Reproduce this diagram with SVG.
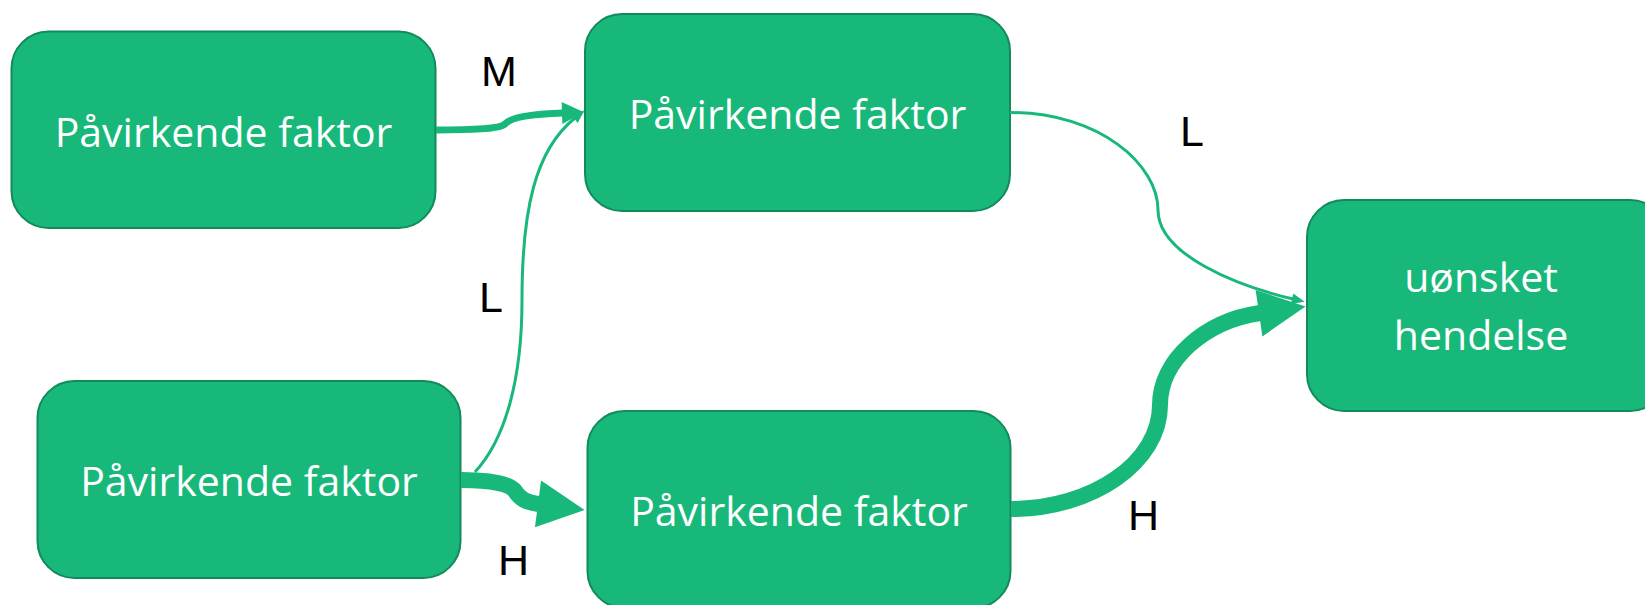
<svg xmlns="http://www.w3.org/2000/svg" width="1645" height="605" viewBox="0 0 1645 605">
  <style>
    .box { fill: #18B87A; stroke: #138A5C; stroke-width: 2; }
    .box-text { font-family: "Open Sans", "Noto Sans", sans-serif; font-size: 41px; fill: #FFFFFF; text-anchor: middle; }
    .link { fill: none; stroke: #18B87A; stroke-linecap: butt; }
    .thin { stroke-width: 3; }
    .mid { stroke-width: 7; }
    .thick { stroke-width: 16; }
    .label { font-family: "Liberation Sans", Arial, sans-serif; font-size: 43px; fill: #000000; }
  </style>
  <defs>
    <marker id="head-lg" markerUnits="userSpaceOnUse" markerWidth="48" markerHeight="48" refX="1" refY="23.5" orient="auto" overflow="visible">
      <path d="M0,0 L47,23.5 L0,47 z" fill="#18B87A"/>
    </marker>
    <marker id="head-md" markerUnits="userSpaceOnUse" markerWidth="22" markerHeight="22" refX="1" refY="11" orient="auto" overflow="visible">
      <path d="M0,0 L22,11 L0,22 z" fill="#18B87A"/>
    </marker>
    <marker id="head-sm" markerUnits="userSpaceOnUse" markerWidth="14" markerHeight="12" refX="1" refY="5.5" orient="auto" overflow="visible">
      <path d="M0,0 L13,5.5 L0,11 z" fill="#18B87A"/>
    </marker>
  </defs>

  <rect width="1645" height="605" fill="#FFFFFF"/>

  <!-- factor nodes -->
  <g id="factor-top-left">
    <rect class="box" x="11.5" y="31.5" width="424" height="196.5" rx="37" ry="37"/>
    <text class="box-text" x="223.5" y="146.5">Påvirkende faktor</text>
  </g>
  <g id="factor-top-mid">
    <rect class="box" x="585" y="14" width="425" height="197" rx="37" ry="37"/>
    <text class="box-text" x="797.5" y="129">Påvirkende faktor</text>
  </g>
  <g id="factor-bottom-left">
    <rect class="box" x="37.5" y="381" width="423" height="197" rx="37" ry="37"/>
    <text class="box-text" x="249" y="496">Påvirkende faktor</text>
  </g>
  <g id="factor-bottom-mid">
    <rect class="box" x="587.5" y="411" width="423" height="197" rx="37" ry="37"/>
    <text class="box-text" x="799" y="525.5">Påvirkende faktor</text>
  </g>
  <g id="event">
    <rect class="box" x="1307" y="200" width="360" height="211" rx="37" ry="37"/>
    <text class="box-text" x="1481" y="292">uønsket</text>
    <text class="box-text" x="1481" y="350">hendelse</text>
  </g>

  <!-- weighted connectors -->
  <g id="connectors">
    <path class="link mid" d="M436,130 C470,130 500,129 505,124 C510,118 530,114 563,113" marker-end="url(#head-md)"/>
    <path class="link thin" d="M475,472 C505,440 522,380 522,300 C522,210 535,150 575,118" marker-end="url(#head-sm)"/>
    <path class="link thick" d="M461,480 C492,480 510,484 515,491 C520,499 526,502.3 539,504" marker-end="url(#head-lg)"/>
    <path class="link thin" d="M1010,112.5 C1100,112.5 1158,165 1158,210 C1158,255 1238,286 1293,299" marker-end="url(#head-sm)"/>
    <path class="link thick" d="M1011,509 C1093,509 1160,462 1160,405 C1160,360 1205,321 1260,313" marker-end="url(#head-lg)"/>
  </g>

  <!-- connector weights -->
  <g id="labels">
    <text class="label" x="481" y="86">M</text>
    <text class="label" x="479" y="312">L</text>
    <text class="label" x="498" y="575">H</text>
    <text class="label" x="1180" y="146">L</text>
    <text class="label" x="1128" y="530">H</text>
  </g>
</svg>
